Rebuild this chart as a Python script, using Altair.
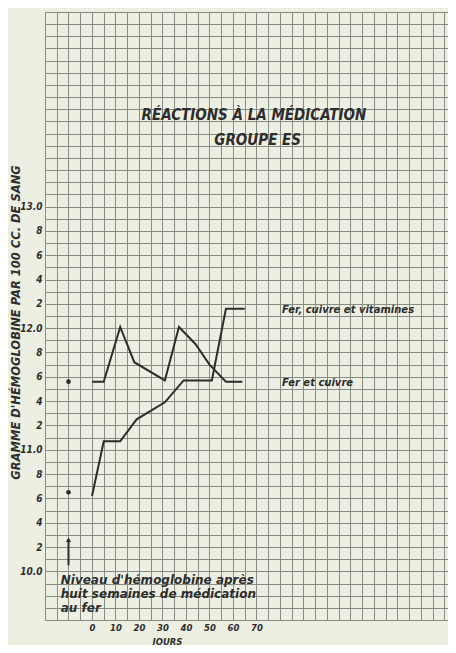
import altair as alt
import pandas as pd

# ---- data ----
days_fer_cuivre = [0, 5, 12, 18, 31, 37, 44, 50, 57, 64]
hb_fer_cuivre = [11.56, 11.56, 12.01, 11.72, 11.57, 12.01, 11.87, 11.70, 11.56, 11.56]

days_fer_cuivre_vit = [0, 5, 12, 19, 31, 39, 51, 57, 65]
hb_fer_cuivre_vit = [10.62, 11.07, 11.07, 11.25, 11.39, 11.57, 11.57, 12.16, 12.16]

# iron-only level after eight weeks (dots left of day 0)
fer_day = [-10, -10]
fer_hb = [11.56, 10.65]

x_tick_labels = [0, 10, 20, 30, 40, 50, 60, 70]
y_tick_labels = ["10.0", "2", "4", "6", "8", "11.0", "2", "4", "6", "8",
                 "12.0", "2", "4", "6", "8", "13.0"]

# grid (graph paper): every 5 days, every 0.1 g
x_grid = list(range(-20, 155, 5))
y_grid = [round(9.6 + 0.1 * i, 1) for i in range(51)]

BG = "#edefe2"
GRID = "#878d82"
INK = "#2d2d2d"
FONT = "DejaVu Sans"
NARROW = "Liberation Sans Narrow, DejaVu Sans Condensed, Liberation Sans"

lines_df = pd.DataFrame(
    {"jour": days_fer_cuivre, "hb": hb_fer_cuivre, "serie": "Fer et cuivre"}
)
lines_df = pd.concat([
    lines_df,
    pd.DataFrame({"jour": days_fer_cuivre_vit, "hb": hb_fer_cuivre_vit,
                  "serie": "Fer, cuivre et vitamines"}),
])
dots_df = pd.DataFrame({"jour": fer_day, "hb": fer_hb})

xscale = alt.Scale(domain=[-20, 151.5], nice=False, zero=False)
yscale = alt.Scale(domain=[9.6, 14.6], nice=False, zero=False)

y_label_expr = (
    "(round(datum.value*10) >= 100 && round(datum.value*10) <= 130 && "
    "round(datum.value*10) % 2 == 0) ? "
    "(round(datum.value*10) % 10 == 0 ? format(datum.value, '.1f') : "
    "'' + (round(datum.value*10) % 10)) : ''"
)
x_label_expr = (
    "(datum.value >= 0 && datum.value <= 70 && datum.value % 10 == 0) ? "
    "format(datum.value, 'd') : ''"
)

x_axis = alt.Axis(
    values=x_grid, tickCount=200, grid=True, gridColor=GRID, gridWidth=1, gridOpacity=1,
    ticks=False, domain=False, labelExpr=x_label_expr, labelOverlap=False,
    labelFont=FONT, labelFontSize=8.5, labelFontStyle="italic", labelFontWeight="bold",
    labelColor=INK, labelPadding=3, labelFlush=False,
    title="JOURS", titleFont=FONT, titleFontSize=8.5, titleFontStyle="italic",
    titleFontWeight="bold", titleColor=INK, titleX=122, titleY=21,
    titleBaseline="middle", titleAlign="center",
)
y_axis = alt.Axis(
    values=y_grid, tickCount=200, grid=True, gridColor=GRID, gridWidth=1, gridOpacity=1,
    ticks=False, domain=False, labelExpr=y_label_expr, labelOverlap=False,
    labelFont=NARROW, labelFontSize=10, labelFontStyle="italic", labelFontWeight="bold",
    labelColor=INK, labelPadding=3, labelFlush=False,
    title="GRAMME D'HÉMOGLOBINE PAR 100 CC. DE SANG", titleFont=FONT,
    titleFontSize=11.5, titleFontStyle="italic", titleFontWeight="bold",
    titleColor=INK, titleAngle=270, titleX=-29, titleY=310,
    titleBaseline="middle", titleAlign="center",
)

base = alt.Chart(lines_df).mark_line(color=INK, strokeWidth=2).encode(
    x=alt.X("jour:Q", scale=xscale, axis=x_axis),
    y=alt.Y("hb:Q", scale=yscale, axis=y_axis),
    detail="serie:N",
)

dots = alt.Chart(dots_df).mark_circle(color=INK, size=22, opacity=1).encode(
    x=alt.X("jour:Q", scale=xscale), y=alt.Y("hb:Q", scale=yscale)
)

# arrow pointing to the iron-only level
arrow_df = pd.DataFrame({"jour": [-10], "y1": [10.05], "y2": [10.26]})
arrow_shaft = alt.Chart(arrow_df).mark_rule(color=INK, strokeWidth=2).encode(
    x=alt.X("jour:Q", scale=xscale), y=alt.Y("y1:Q", scale=yscale), y2="y2:Q"
)
arrow_head = alt.Chart(arrow_df).mark_point(
    shape="triangle-up", filled=True, color=INK, size=28, opacity=1
).encode(x=alt.X("jour:Q", scale=xscale), y=alt.Y("y2:Q", scale=yscale))

# titles
title_df = pd.DataFrame({
    "txt": ["RÉACTIONS À LA MÉDICATION", "GROUPE  ES"],
    "jour": [68.9, 70.5], "hb": [13.75, 13.55],
})
titles = alt.Chart(title_df).mark_text(
    font=NARROW, fontSize=15, fontStyle="italic", fontWeight="bold",
    color=INK, align="center", baseline="middle"
).encode(x=alt.X("jour:Q", scale=xscale), y=alt.Y("hb:Q", scale=yscale), text="txt:N")

serie_df = pd.DataFrame({
    "txt": ["Fer, cuivre et vitamines", "Fer et cuivre"],
    "jour": [80.9, 80.9], "hb": [12.15, 11.55],
})
serie_labels = alt.Chart(serie_df).mark_text(
    font=FONT, fontSize=10, fontStyle="italic", fontWeight="bold",
    color=INK, align="left", baseline="middle"
).encode(x=alt.X("jour:Q", scale=xscale), y=alt.Y("hb:Q", scale=yscale), text="txt:N")

note_df = pd.DataFrame({
    "txt": ["Niveau d'hémoglobine après", "huit semaines de médication", "au fer"],
    "jour": [-13.3, -13.3, -13.3], "hb": [9.93, 9.815, 9.70],
})
note = alt.Chart(note_df).mark_text(
    font=FONT, fontSize=12, fontStyle="italic", fontWeight="bold",
    color=INK, align="left", baseline="middle"
).encode(x=alt.X("jour:Q", scale=xscale), y=alt.Y("hb:Q", scale=yscale), text="txt:N")

chart = alt.layer(
    base, dots, arrow_shaft, arrow_head, titles, serie_labels, note
).properties(
    width=403, height=608, background=BG,
    autosize=alt.AutoSizeParams(type="none"),
    padding={"left": 37, "top": 4, "right": 0, "bottom": 25},
).configure_view(strokeWidth=0)

chart.save("out.html", embed_options={"renderer": "svg", "actions": False})
